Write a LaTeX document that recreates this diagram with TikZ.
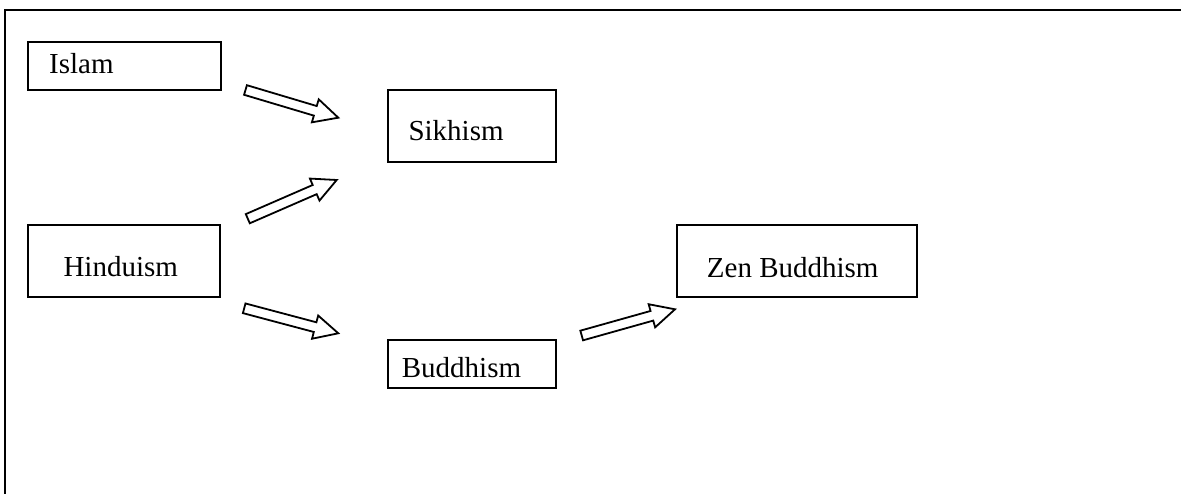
\documentclass[tikz,border=0pt]{standalone}
\usepackage{fontspec}
\setmainfont{Liberation Serif}
\usetikzlibrary{calc}
\tikzset{
  box/.style={draw, line width=1.8pt, rectangle, inner sep=0pt},
  lbl/.style={anchor=base west, inner sep=0pt, font=\fontsize{29}{34}\selectfont},
  frame/.style={line width=2.6pt},
  barrow/.style={draw, line width=1.8pt, fill=white, line join=miter}
}
\newcommand\blockarrow[2]{%
  \coordinate (hb) at ($(#2)!24pt!(#1)$);
  \draw[barrow] ($(#1)!5pt!90:(#2)$) -- ($(hb)!5pt!90:(#2)$) -- ($(hb)!12pt!90:(#2)$)
    -- (#2) -- ($(hb)!12pt!-90:(#2)$) -- ($(hb)!5pt!-90:(#2)$) -- ($(#1)!5pt!-90:(#2)$) -- cycle;
}
\begin{document}
\begin{tikzpicture}[x=1pt, y=-1pt]
\useasboundingbox (0,0) rectangle (1181,494);
\draw[frame] (1183,10.2) -- (5,10.2) -- (5,496);
% boxes
\node[box, minimum width=193pt, minimum height=48pt] (islam) at (124.2,66.3) {};
\node[box, minimum width=167.7pt, minimum height=72.3pt] (sikh) at (472.2,126.2) {};
\node[box, minimum width=191.7pt, minimum height=72.3pt] (hindu) at (124.2,260.9) {};
\node[box, minimum width=167.7pt, minimum height=48.3pt] (buddh) at (472.2,364.2) {};
\node[box, minimum width=239.4pt, minimum height=72.3pt] (zen) at (797,260.9) {};
% labels
\node[lbl] (islamt) at (49,73.3) {Islam};
\node[lbl] (sikht) at (408.3,141) {Sikhism};
\node[lbl] (hindut) at (63.3,276.3) {Hinduism};
\node[lbl] (buddht) at (401.7,377.7) {Buddhism};
\node[lbl] (zent) at (706.7,277.3) {Zen Buddhism};
% arrow end points
\coordinate (a1t) at (245.5,90);   \coordinate (a1h) at (338.3,117.7);
\coordinate (a2t) at (247.8,218.7); \coordinate (a2h) at (336.7,180);
\coordinate (a3t) at (244.2,308.3); \coordinate (a3h) at (338.3,333.3);
\coordinate (a4t) at (581.7,335.5); \coordinate (a4h) at (675,309.3);
\blockarrow{a1t}{a1h}
\blockarrow{a2t}{a2h}
\blockarrow{a3t}{a3h}
\blockarrow{a4t}{a4h}
\end{tikzpicture}
\end{document}
